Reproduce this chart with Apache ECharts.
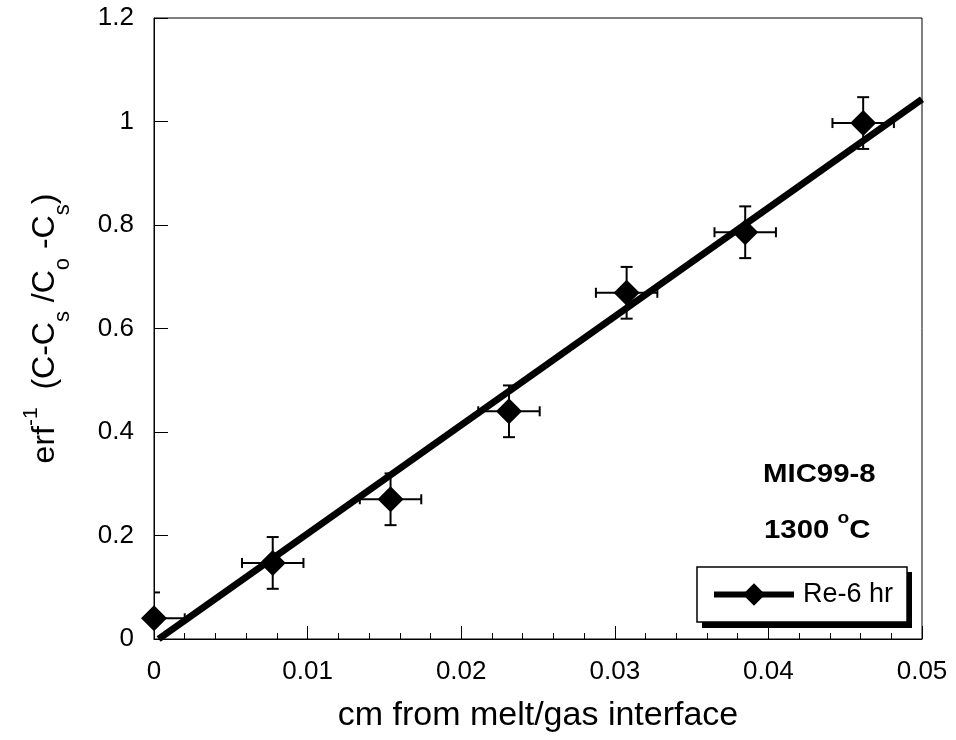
<!DOCTYPE html>
<html>
<head>
<meta charset="utf-8">
<script src="https://cdn.jsdelivr.net/npm/echarts@6/dist/echarts.min.js"></script>
<style>html,body{margin:0;padding:0;background:#fff}#c{width:956px;height:740px}</style>
</head>
<body>
<div id="c"></div>
<script>
// ---- data ----
const xValues = [0.0, 0.00773, 0.0154, 0.02311, 0.03077, 0.03849, 0.04617];
const yValues = [0.040, 0.147, 0.270, 0.440, 0.669, 0.786, 0.997];
const xErrors = [0.002, 0.002, 0.002, 0.002, 0.002, 0.002, 0.002];
const yErrors = [0.05, 0.05, 0.05, 0.05, 0.05, 0.05, 0.05];
const fitX = [0.0003, 0.05];
const fitY = [0.0, 1.043];
const seriesName = 'Re-6 hr';
const sampleLabel = 'MIC99-8';
const tempLabel = '1300 ';

const FONT = '"Liberation Sans", Arial, sans-serif';
const points = xValues.map((x, i) => [x, yValues[i]]);
const errData = xValues.map((x, i) => [x, yValues[i], xErrors[i], yErrors[i]]);
const fitData = fitX.map((x, i) => [x, fitY[i]]);

const chart = echarts.init(document.getElementById('c'), null, {renderer: 'canvas'});

function renderErr(params, api) {
  const x = api.value(0), y = api.value(1), ex = api.value(2), ey = api.value(3);
  const top = api.coord([x, y + ey]);
  const bot = api.coord([x, y - ey]);
  const lft = api.coord([x - ex, y]);
  const rgt = api.coord([x + ex, y]);
  const st = {stroke: '#000', lineWidth: 2};
  const cw = 6, ch = 5;
  return {
    type: 'group',
    children: [
      {type: 'line', shape: {x1: top[0], y1: top[1], x2: bot[0], y2: bot[1]}, style: st},
      {type: 'line', shape: {x1: top[0] - cw, y1: top[1], x2: top[0] + cw, y2: top[1]}, style: st},
      {type: 'line', shape: {x1: bot[0] - cw, y1: bot[1], x2: bot[0] + cw, y2: bot[1]}, style: st},
      {type: 'line', shape: {x1: lft[0], y1: lft[1], x2: rgt[0], y2: rgt[1]}, style: st},
      {type: 'line', shape: {x1: lft[0], y1: lft[1] - ch, x2: lft[0], y2: lft[1] + ch}, style: st},
      {type: 'line', shape: {x1: rgt[0], y1: rgt[1] - ch, x2: rgt[0], y2: rgt[1] + ch}, style: st}
    ]
  };
}

const option = {
  animation: false,
  backgroundColor: '#fff',
  textStyle: {fontFamily: FONT, color: '#000'},
  grid: {left: 154, right: 34, top: 18, bottom: 101, show: true, borderColor: '#000', borderWidth: 1, backgroundColor: 'transparent'},
  xAxis: {
    type: 'value', min: 0, max: 0.05, interval: 0.01,
    axisLine: {lineStyle: {color: '#000', width: 1}},
    axisTick: {inside: true, length: 13, lineStyle: {color: '#000'}},
    minorTick: {show: true, splitNumber: 5, length: 6, lineStyle: {color: '#000'}},
    splitLine: {show: false},
    axisLabel: {fontSize: 26, color: '#000', fontFamily: FONT, margin: 20},
    name: 'cm from melt/gas interface',
    nameLocation: 'middle', nameGap: 60,
    nameTextStyle: {fontSize: 34, color: '#000', fontFamily: FONT}
  },
  yAxis: {
    type: 'value', min: 0, max: 1.2, interval: 0.2,
    axisLine: {lineStyle: {color: '#000', width: 1}},
    axisTick: {inside: true, length: 14, lineStyle: {color: '#000'}},
    splitLine: {show: false},
    axisLabel: {fontSize: 26, color: '#000', fontFamily: FONT, margin: 20},
    name: '{m|erf}{sup|-1}{m|  (C-C}{sub|s}{m| /C}{sub|o}{m| -C}{sub|s}{m|)}',
    nameLocation: 'middle', nameRotate: 90, nameGap: 78,
    nameTextStyle: {
      color: '#000', fontFamily: FONT,
      rich: {
        m: {fontSize: 32, lineHeight: 62, fontFamily: FONT, color: '#000', verticalAlign: 'middle'},
        sup: {fontSize: 21, lineHeight: 22, fontFamily: FONT, color: '#000', verticalAlign: 'top', padding: [7, 0, 0, 0]},
        sub: {fontSize: 22, lineHeight: 22, fontFamily: FONT, color: '#000', verticalAlign: 'bottom', padding: [0, 0, 2, 0]}
      }
    }
  },
  legend: {
    data: [seriesName],
    left: 697, top: 567, orient: 'horizontal',
    padding: [14, 14, 14, 14],
    itemWidth: 80, itemHeight: 28, itemGap: 5,
    backgroundColor: '#fff', borderColor: '#000', borderWidth: 1.5, borderRadius: 0,
    lineStyle: {width: 6, color: '#000', opacity: 1},
    itemStyle: {color: '#000', opacity: 1},
    textStyle: {fontSize: 27, color: '#000', fontFamily: FONT, padding: [0, 0, 0, 4]},
    selectedMode: false, z: 10
  },
  graphic: [
    {type: 'rect', z: 9, shape: {x: 702, y: 572, width: 210, height: 56}, style: {fill: '#000'}},
    {type: 'text', left: 763, top: 462, scaleX: 1.13, style: {text: sampleLabel, font: 'bold 26px ' + FONT, fill: '#000'}},
    {type: 'text', left: 764, top: 510, scaleX: 1.13, style: {
      text: '{b|' + tempLabel + '}{s|o}{b|C}',
      rich: {
        b: {font: 'bold 26px ' + FONT, fill: '#000', verticalAlign: 'bottom', lineHeight: 34},
        s: {font: 'bold 17px ' + FONT, fill: '#000', verticalAlign: 'top', lineHeight: 18}
      }
    }}
  ],
  series: [
    {type: 'custom', name: 'err', renderItem: renderErr, data: errData, clip: true, z: 2,
     encode: {x: 0, y: 1}},
    {type: 'line', name: 'fit', data: fitData, symbol: 'none', z: 3, clip: true,
     lineStyle: {width: 7, color: '#000', cap: 'butt'}},
    {type: 'line', name: seriesName, data: points, symbol: 'diamond', symbolSize: 26, z: 4,
     itemStyle: {color: '#000'}, lineStyle: {width: 0, opacity: 0}}
  ]
};
chart.setOption(option);
</script>
</body>
</html>
